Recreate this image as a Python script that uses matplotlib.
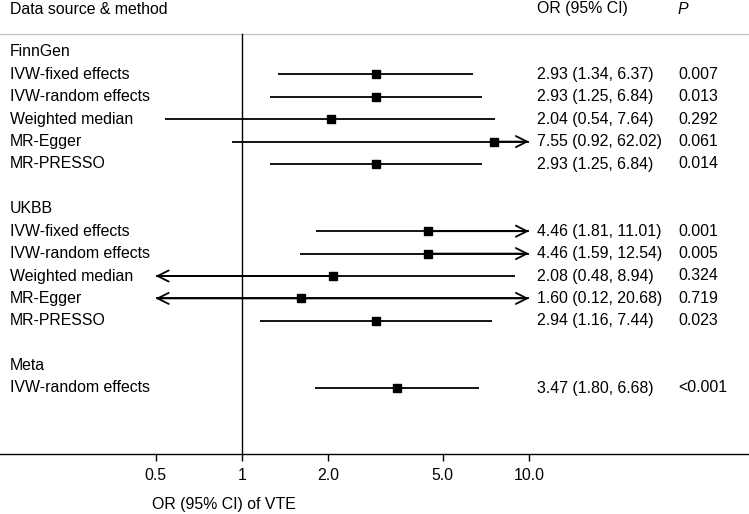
import numpy as np
import matplotlib.pyplot as plt

plt.rcParams['font.family'] = ['Liberation Sans', 'DejaVu Sans']

# data
sources = ['FinnGen', 'UKBB', 'Meta']
methods = [['IVW-fixed effects', 'IVW-random effects', 'Weighted median', 'MR-Egger', 'MR-PRESSO'],
           ['IVW-fixed effects', 'IVW-random effects', 'Weighted median', 'MR-Egger', 'MR-PRESSO'],
           ['IVW-random effects']]
or_est = [[2.93, 2.93, 2.04, 7.55, 2.93],
          [4.46, 4.46, 2.08, 1.60, 2.94],
          [3.47]]
ci_low = [[1.34, 1.25, 0.54, 0.92, 1.25],
          [1.81, 1.59, 0.48, 0.12, 1.16],
          [1.80]]
ci_high = [[6.37, 6.84, 7.64, 62.02, 6.84],
           [11.01, 12.54, 8.94, 20.68, 7.44],
           [6.68]]
p_vals = [['0.007', '0.013', '0.292', '0.061', '0.014'],
          ['0.001', '0.005', '0.324', '0.719', '0.023'],
          ['<0.001']]
xticks = [0.5, 1, 2.0, 5.0, 10.0]
xticklabels = ['0.5', '1', '2.0', '5.0', '10.0']
clip_lo, clip_hi = 0.5, 10.0

W, H = 749, 514
fig = plt.figure(figsize=(W / 100, H / 100), dpi=100)
ax_bottom = (H - 454) / H
ax = fig.add_axes([0, ax_bottom, 1, 1 - ax_bottom])
ax.set_xscale('log')
ppd = 287.0  # pixels per decade
ax.set_xlim(10 ** (-242 / ppd), 10 ** ((W - 242) / ppd))
row_h = 22.4
ax.set_ylim((454 - 52) / row_h, -52 / row_h)

fs = 11.4
lab_x = 10 / W
or_x = 537 / W
p_x = 678 / W
tr = ax.get_yaxis_transform()  # x in axes fraction, y in data

# header
hy = (9 - 52) / row_h
ax.text(lab_x, hy, 'Data source & method', transform=tr, va='center', fontsize=fs)
ax.text(or_x, hy, 'OR (95% CI)', transform=tr, va='center', fontsize=fs)
ax.text(p_x, hy, 'P', transform=tr, va='center', fontsize=fs, style='italic')
ax.axhline((34 - 52) / row_h, color='#c8c8c8', lw=1)

row = 0
for s, src in enumerate(sources):
    ax.text(lab_x, row, src, transform=tr, va='center', fontsize=fs)
    row += 1
    for m, meth in enumerate(methods[s]):
        est, lo, hi = or_est[s][m], ci_low[s][m], ci_high[s][m]
        ax.text(lab_x, row, meth, transform=tr, va='center', fontsize=fs)
        ax.text(or_x, row, f'{est:.2f} ({lo:.2f}, {hi:.2f})', transform=tr, va='center', fontsize=fs)
        ax.text(p_x, row, p_vals[s][m], transform=tr, va='center', fontsize=fs)
        a, b = max(lo, clip_lo), min(hi, clip_hi)
        ax.plot([a, b], [row, row], color='black', lw=1.3, solid_capstyle='butt')
        arrow = dict(arrowstyle='->,head_length=0.8,head_width=0.4', color='black', lw=1.3,
                     shrinkA=0, shrinkB=0)
        if hi > clip_hi:
            ax.annotate('', xy=(clip_hi, row), xytext=(est, row), arrowprops=arrow)
        if lo < clip_lo:
            ax.annotate('', xy=(clip_lo, row), xytext=(est, row), arrowprops=arrow)
        ax.plot(est, row, marker='s', color='black', ms=6, zorder=3)
        row += 1
    row += 1

ax.plot([1, 1], [(34 - 52) / row_h, (454 - 52) / row_h], color='black', lw=1)

for sp in ['top', 'left', 'right']:
    ax.spines[sp].set_visible(False)
ax.spines['bottom'].set_linewidth(1)
ax.set_yticks([])
ax.set_xticks(xticks)
ax.set_xticklabels(xticklabels)
ax.xaxis.set_minor_locator(plt.NullLocator())
ax.tick_params(axis='x', length=5, width=1, labelsize=fs, pad=5)

fig.text(224 / W, (H - 505) / H, 'OR (95% CI) of VTE', ha='center', va='center', fontsize=fs)

fig.savefig('out.png', dpi=100)
